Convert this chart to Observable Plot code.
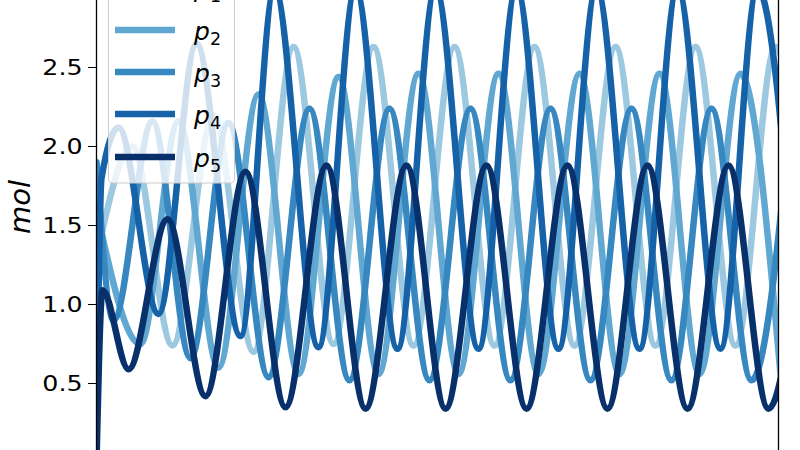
<!DOCTYPE html>
<html>
<head>
<meta charset="utf-8">
<script src="https://cdn.jsdelivr.net/npm/d3@7"></script>
<script src="https://cdn.jsdelivr.net/npm/@observablehq/plot@0.6"></script>
<style>
  body { margin: 0; background: #ffffff; }
  #wrap { position: relative; width: 800px; height: 450px; overflow: hidden; font-family: "DejaVu Sans", sans-serif; }
  #wrap > svg { position: absolute; left: 0; top: 0; }
  #overlay { pointer-events: none; }
</style>
</head>
<body>
<div id="wrap"></div>
<script>
// ---- data (time in arbitrary units, values in mol) ----
const names  = ["p1", "p2", "p3", "p4", "p5"];
const colors = ["#9cc8e0", "#60a7d2", "#3787c0", "#1562a9", "#08306b"];

const p1T = [0, 36, 76, 117, 157, 197, 237, 277, 317, 358, 398, 438, 478, 519, 559, 599, 639, 679, 719];
const p1V = [1.30, 2.00, 0.74, 2.20, 0.70, 2.63, 0.75, 2.63, 0.74, 2.63, 0.74, 2.63, 0.74, 2.63, 0.74, 2.63, 0.74, 2.63, 0.74];

const p2T = [0, 44, 82, 122, 162, 202, 242, 282, 322, 362, 402, 442, 483, 523, 563, 603, 644, 684];
const p2V = [1.60, 0.75, 2.16, 0.60, 2.33, 0.56, 2.44, 0.56, 2.46, 0.56, 2.46, 0.56, 2.46, 0.56, 2.46, 0.56, 2.46, 0.56];

const p3T = [0, 17, 56, 94, 132, 172, 213, 253, 293, 333, 374, 414, 454, 494, 535, 575, 615, 655, 695];
const p3V = [1.90, 0.90, 2.16, 0.66, 2.15, 0.54, 2.24, 0.52, 2.24, 0.52, 2.24, 0.52, 2.24, 0.52, 2.24, 0.52, 2.24, 0.52, 2.24];

const p4T = [0, 5, 22, 62, 100, 144, 178, 222, 259, 301, 339, 382, 420, 462, 500, 543, 581, 624, 661, 703];
const p4V = [0.20, 1.80, 2.12, 0.94, 2.65, 0.80, 3.00, 0.73, 3.00, 0.72, 3.00, 0.72, 3.00, 0.72, 3.00, 0.72, 3.00, 0.72, 3.00, 0.72];

const p5T = [0, 6, 32, 71, 109, 149, 189, 230, 269, 310, 349, 390, 430, 471, 511, 551, 591, 632, 672, 712];
const p5V = [0.00, 1.09, 0.59, 1.54, 0.42, 1.84, 0.35, 1.88, 0.34, 1.88, 0.34, 1.88, 0.34, 1.88, 0.34, 1.88, 0.34, 1.88, 0.34, 1.88];

const yTicks = [0.5, 1.0, 1.5, 2.0, 2.5];
const yTickLabels = ["0.5", "1.0", "1.5", "2.0", "2.5"];
const yLabel = "mol";
const xDomain = [0, 682];
const yDomain = [0.076, 2.924];

// ---- build ----
const times = [p1T, p2T, p3T, p4T, p5T];
const vals  = [p1V, p2V, p3V, p4V, p5V];
const rows = names.map((n, k) => times[k].map((t, i) => ({ series: n, t, v: vals[k][i] })));

const lineMarks = rows.map((r, k) =>
  Plot.line(r, { x: "t", y: "v", stroke: colors[k], strokeWidth: 6.5, curve: "monotone-x", clip: true })
);

const chart = Plot.plot({
  width: 800,
  height: 450,
  marginLeft: 96,
  marginRight: 22,
  marginTop: 0,
  marginBottom: 0,
  style: { fontFamily: "DejaVu Sans", fontSize: "22px", color: "#000", background: "transparent" },
  x: { domain: xDomain, axis: null },
  y: {
    domain: yDomain,
    ticks: yTicks,
    tickFormat: d => yTickLabels[yTicks.indexOf(d)],
    tickSize: 8,
    tickPadding: 6,
    label: null
  },
  marks: [
    ...lineMarks,
    Plot.ruleX([xDomain[0]], { stroke: "#000", strokeWidth: 1.3 }),
    Plot.ruleX([xDomain[1]], { stroke: "#000", strokeWidth: 1.3 })
  ]
});

document.getElementById("wrap").appendChild(chart);

// widen tick labels a little (reference glyphs are slightly stretched)
chart.querySelectorAll("text").forEach(t => {
  const tr = t.getAttribute("transform") || "";
  const x = t.getAttribute("x") || 0;
  t.setAttribute("transform", `${tr} translate(${x},0) scale(1.15,1) translate(${-x},0)`);
});

// ---- legend + y label overlay ----
const ov = d3.select("#wrap").append("svg")
  .attr("id", "overlay")
  .attr("width", 800).attr("height", 450)
  .style("font-family", "DejaVu Sans");

ov.append("rect")
  .attr("x", 108.5).attr("y", -40).attr("width", 126).attr("height", 223)
  .attr("rx", 4).attr("fill", "#fff").attr("fill-opacity", 0.8)
  .attr("stroke", "#cccccc").attr("stroke-width", 1);

const rowY = [-13, 30, 72, 114, 157];
names.forEach((n, k) => {
  ov.append("line")
    .attr("x1", 115).attr("x2", 175)
    .attr("y1", rowY[k]).attr("y2", rowY[k])
    .attr("stroke", colors[k]).attr("stroke-width", 6.5);
  const tx = ov.append("text")
    .attr("x", 194).attr("y", rowY[k] + 9.5)
    .attr("font-size", 25).attr("fill", "#000");
  tx.append("tspan").attr("font-style", "italic").text(n[0]);
  tx.append("tspan").attr("font-size", 17.5).attr("dy", 5).text(n.slice(1));
});

ov.append("text")
  .attr("transform", "translate(30,207) rotate(-90)")
  .attr("text-anchor", "middle")
  .attr("font-style", "italic")
  .attr("font-size", 29)
  .attr("fill", "#000")
  .text(yLabel);
</script>
</body>
</html>
